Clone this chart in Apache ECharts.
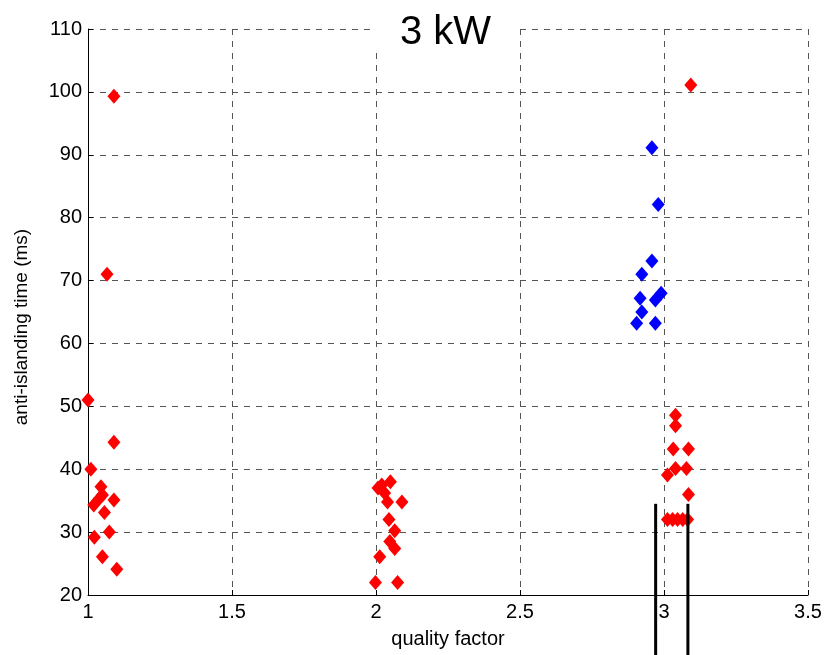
<!DOCTYPE html>
<html>
<head>
<meta charset="utf-8">
<script src="https://cdn.jsdelivr.net/npm/echarts@6/dist/echarts.min.js"></script>
<style>
  html, body { margin: 0; padding: 0; background: #fff; }
  #chart { width: 825px; height: 655px; }
</style>
</head>
<body>
<div id="chart"></div>
<script>
// quality factor / anti-islanding time (ms)
const redQ = [1.09, 1.066, 1.0, 1.09, 1.01, 1.045, 1.04, 1.05, 1.09, 1.02, 1.057, 1.074, 1.022, 1.05, 1.10,
  2.05, 2.02, 2.007, 2.03, 2.04, 2.09, 2.045, 2.065, 2.048, 2.065, 2.013, 1.998, 2.075,
  3.093, 3.04, 3.04, 3.032, 3.085, 3.04, 3.078, 3.012, 3.085, 3.012, 3.03, 3.047, 3.065, 3.082];
const redTime = [99.3, 71, 51, 44.3, 40, 37.2, 35.4, 35.9, 35.1, 34.3, 33.1, 30, 29.2, 26.1, 24.1,
  38, 37.5, 37, 36.2, 34.8, 34.8, 32, 30.2, 28.5, 27.4, 26.1, 22, 22,
  101.1, 48.6, 46.9, 43.2, 43.2, 40.1, 40.1, 39.1, 36, 32, 32, 32, 32, 32];

const blueQ = [2.958, 2.98, 2.958, 2.923, 2.99, 2.917, 2.97, 2.923, 2.905, 2.97];
const blueTime = [91.1, 82.1, 73.1, 71, 68, 67.2, 66.9, 65, 63.2, 63.2];

// the two black vertical bars near q = 3
const barQ = [2.971, 3.083];
const barTime = [34.5, 10];

const xTicks = [1, 1.5, 2, 2.5, 3, 3.5];
const yTicks = [20, 30, 40, 50, 60, 70, 80, 90, 100, 110];

const chart = echarts.init(document.getElementById('chart'));

const font = 'Liberation Sans, Arial, sans-serif';
const gridLine = { show: true, lineStyle: { color: '#555', type: [6, 6], width: 1 } };
const pair = (xs, ys) => xs.map((x, i) => [x, ys[i]]);

chart.setOption({
  animation: false,
  textStyle: { fontFamily: font },
  title: {
    text: '3 kW',
    left: 376,
    top: 12,
    padding: [19, 24, 0, 24],
    backgroundColor: '#fff',
    textStyle: { fontSize: 40, lineHeight: 4, fontWeight: 'normal', color: '#000', fontFamily: font }
  },
  grid: { left: 88, right: 17, top: 29, bottom: 60 },
  xAxis: {
    type: 'value',
    min: xTicks[0],
    max: xTicks[xTicks.length - 1],
    interval: 0.5,
    name: 'quality factor',
    nameLocation: 'middle',
    nameGap: 34,
    nameTextStyle: { fontSize: 20, color: '#000' },
    axisLine: { show: true, onZero: false, lineStyle: { color: '#000', width: 1 } },
    axisTick: { show: true, inside: true, length: 5, lineStyle: { color: '#000' } },
    axisLabel: { fontSize: 20, color: '#000', margin: 7 },
    splitLine: gridLine
  },
  yAxis: {
    type: 'value',
    min: yTicks[0],
    max: yTicks[yTicks.length - 1],
    interval: 10,
    name: 'anti-islanding time (ms)',
    nameLocation: 'middle',
    nameGap: 57,
    nameTextStyle: { fontSize: 19, color: '#000', padding: [0, 30, 0, 0] },
    axisLine: { show: true, onZero: false, lineStyle: { color: '#000', width: 1 } },
    axisTick: { show: true, inside: true, length: 5, lineStyle: { color: '#000' } },
    axisLabel: { fontSize: 20, color: '#000', margin: 6 },
    splitLine: gridLine
  },
  series: [
    {
      type: 'scatter',
      symbol: 'diamond',
      symbolSize: [13, 15],
      itemStyle: { color: '#ff0000', opacity: 1 },
      data: pair(redQ, redTime),
      z: 3
    },
    {
      type: 'scatter',
      symbol: 'diamond',
      symbolSize: [13, 15],
      itemStyle: { color: '#0000ff', opacity: 1 },
      data: pair(blueQ, blueTime),
      z: 3
    },
    {
      type: 'line',
      clip: false,
      symbol: 'none',
      lineStyle: { color: '#000', width: 3 },
      data: pair([barQ[0], barQ[0]], barTime),
      z: 4
    },
    {
      type: 'line',
      clip: false,
      symbol: 'none',
      lineStyle: { color: '#000', width: 3 },
      data: pair([barQ[1], barQ[1]], barTime),
      z: 4
    }
  ]
});
</script>
</body>
</html>
